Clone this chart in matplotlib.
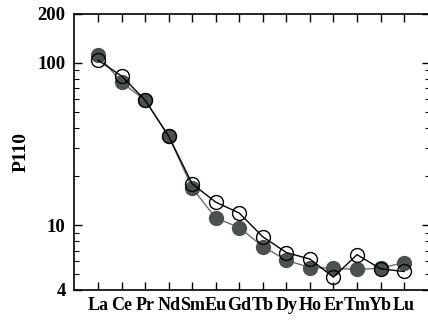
import matplotlib
matplotlib.use("Agg")
import matplotlib.pyplot as plt
from matplotlib.ticker import LogLocator, NullFormatter, FixedLocator

# REE pattern, sample P110
elements = ["La", "Ce", "Pr", "Nd", "Sm", "Eu", "Gd", "Tb", "Dy", "Ho", "Er", "Tm", "Yb", "Lu"]
filled_vals = [112, 76, 59, 35.4, 17, 11.1, 9.7, 7.4, 6.1, 5.5, 5.45, 5.35, 5.45, 5.9]
open_vals = [104, 83, 59, 35.4, 18, 13.9, 11.9, 8.5, 6.8, 6.2, 4.8, 6.6, 5.4, 5.2]
ytick_vals = [4, 10, 100, 200]
ytick_labels = ["4", "10", "100", "200"]

font = "Liberation Serif"

fig = plt.figure(figsize=(4.28, 3.21), dpi=100)
# right spine sits just past the image edge, like the original
ax = fig.add_axes([74 / 428, 31 / 321, 356 / 428, 276 / 321])

x = list(range(len(elements)))
ax.plot(x, filled_vals, "-", color="#6e6e6e", lw=1.0, zorder=2)
ax.plot(x, filled_vals, "o", color="#4b5050", ms=10, mec="#4b5050", zorder=3)
ax.plot(x, open_vals, "-", color="black", lw=1.0, zorder=4)
ax.plot(x, open_vals, "o", mfc="none", mec="black", mew=1.0, ms=10, zorder=5)

ax.set_yscale("log")
ax.set_ylim(4, 200)
ax.set_xlim(-1.02, 14.1)
ax.yaxis.set_major_locator(FixedLocator(ytick_vals))
ax.set_yticklabels(ytick_labels)
ax.yaxis.set_minor_locator(LogLocator(base=10, subs=range(2, 10)))
ax.yaxis.set_minor_formatter(NullFormatter())
ax.set_xticks(x)
ax.set_xticklabels(elements)

ax.tick_params(axis="both", which="major", direction="in", length=6, width=1,
               top=True, right=True, pad=6)
ax.tick_params(axis="y", which="minor", direction="in", length=3.5, width=0.8,
               right=True, left=True)
ax.tick_params(axis="x", pad=5)
for lab in ax.get_yticklabels():
    lab.set_fontfamily(font)
    lab.set_fontweight("bold")
    lab.set_fontsize(13.5)
for lab in ax.get_xticklabels():
    lab.set_fontfamily(font)
    lab.set_fontweight("bold")
    lab.set_fontsize(13)

ax.set_ylabel("P110", fontfamily=font, fontweight="bold", fontsize=14)
ax.yaxis.set_label_coords(-0.125, 0.5)

for sp in ax.spines.values():
    sp.set_linewidth(1.2)

fig.savefig("out.png", dpi=100)
